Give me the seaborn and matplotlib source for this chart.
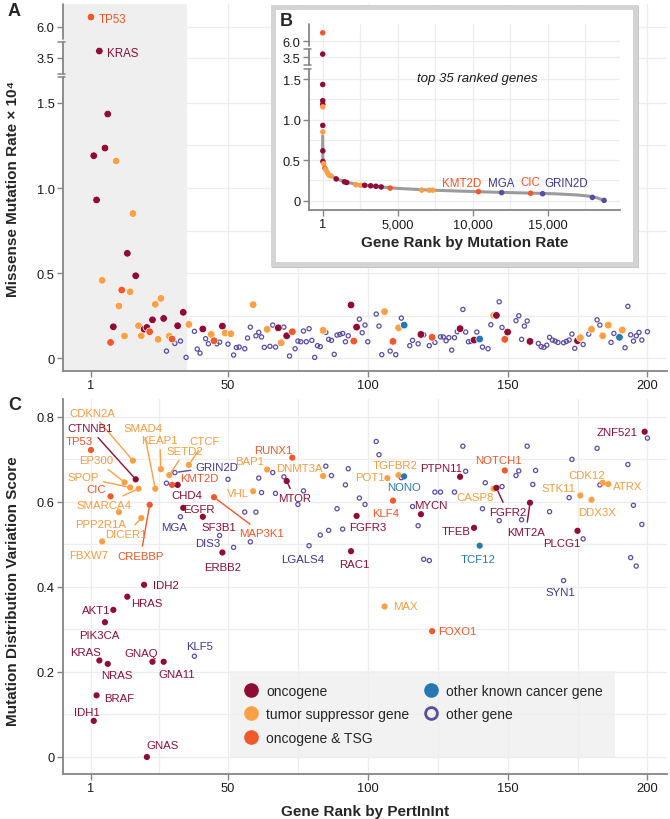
import numpy as np
import pandas as pd
import seaborn as sns
import matplotlib.pyplot as plt
import matplotlib.transforms as mtransforms
from matplotlib.lines import Line2D
from matplotlib.patches import Rectangle

sns.set_theme(style='white')
plt.rcParams['font.family'] = ['Liberation Sans', 'DejaVu Sans']

# gene classes
colors = {'onc': '#900c34', 'tsg': '#fba044', 'both': '#f1592a', 'known': '#2678b2', 'other': '#5a4ba5'}
text_colors = {'onc': '#8c0d36', 'tsg': '#f79b3f', 'both': '#ef5527', 'known': '#2678b2', 'other': '#3f3593'}
codes = {'o': 'onc', 't': 'tsg', 'b': 'both', 'k': 'known', 'x': 'other'}
names = {'onc': 'oncogene', 'tsg': 'tumor suppressor gene', 'both': 'oncogene & TSG',
         'known': 'other known cancer gene', 'other': 'other gene'}

# ---- panel A: rank by PertInInt vs missense mutation rate (x 1e4) ----
a_rank = [1, 2, 3, 4, 5, 6, 7, 8, 9, 10, 11, 12, 13, 14, 15, 16, 17, 18, 19, 20,
          21, 22, 23, 24, 25, 26, 27, 28, 29, 30, 31, 32, 33, 34, 35, 36, 38, 39, 40, 41,
          42, 43, 44, 45, 46, 47, 48, 49, 50, 51, 52, 53, 54, 56, 57, 58, 59, 60, 61, 62,
          63, 64, 65, 66, 67, 68, 69, 70, 71, 72, 73, 74, 75, 76, 77, 78, 79, 80, 81, 82,
          83, 84, 85, 86, 87, 88, 89, 90, 91, 92, 93, 94, 95, 96, 97, 98, 99, 100, 103, 104,
          105, 106, 108, 109, 110, 111, 112, 113, 115, 116, 118, 119, 120, 122, 123, 124, 126, 127, 128, 129,
          130, 131, 132, 133, 134, 135, 136, 137, 138, 139, 140, 141, 143, 144, 145, 146, 147, 148, 149, 150,
          153, 154, 155, 156, 157, 158, 161, 162, 163, 164, 165, 166, 167, 168, 170, 171, 172, 173, 174, 175,
          176, 177, 179, 180, 182, 183, 184, 186, 187, 188, 190, 191, 192, 193, 194, 195, 196, 197, 198, 200]
a_rate = [6.32, 1.19, 0.93, 3.71, 0.457, 1.235, 1.435, 0.092, 0.184, 1.159,
          0.306, 0.40, 0.13, 0.616, 0.39, 0.85, 0.484, 0.19, 0.131, 0.17,
          0.18, 0.155, 0.225, 0.316, 0.11, 0.351, 0.233, 0.041, 0.13, 0.112,
          0.086, 0.19, 0.1, 0.269, 0.004, 0.198, 0.157, 0.053, 0.029, 0.171,
          0.114, 0.084, 0.139, 0.102, 0.084, 0.094, 0.188, 0.147, 0.082, 0.143,
          0.018, 0.062, 0.065, 0.055, 0.118, 0.182, 0.314, 0.131, 0.151, 0.124,
          0.063, 0.169, 0.069, 0.194, 0.065, 0.178, 0.09, 0.182, 0.131, 0.012,
          0.155, 0.055, 0.1, 0.096, 0.159, 0.096, 0.173, 0.104, 0.004, 0.073,
          0.067, 0.163, 0.151, 0.11, 0.104, 0.022, 0.135, 0.139, 0.145, 0.096,
          0.131, 0.312, 0.1, 0.182, 0.229, 0.149, 0.194, 0.096, 0.259, 0.188,
          0.02, 0.273, 0.041, 0.098, 0.02, 0.178, 0.235, 0.194, 0.073, 0.104,
          0.084, 0.139, 0.137, 0.073, 0.122, 0.092, 0.125, 0.124, 0.102, 0.12,
          0.047, 0.12, 0.155, 0.173, 0.286, 0.153, 0.096, 0.098, 0.106, 0.153,
          0.112, 0.065, 0.055, 0.196, 0.251, 0.251, 0.331, 0.18, 0.11, 0.153,
          0.22, 0.249, 0.11, 0.188, 0.218, 0.098, 0.086, 0.067, 0.063, 0.076,
          0.122, 0.106, 0.1, 0.092, 0.09, 0.098, 0.106, 0.141, 0.057, 0.102,
          0.12, 0.08, 0.141, 0.169, 0.225, 0.194, 0.131, 0.194, 0.092, 0.145,
          0.122, 0.165, 0.061, 0.304, 0.137, 0.1, 0.131, 0.151, 0.106, 0.155]
a_type = [codes[c] for c in
          'boootoobot' 'tbtottotto' 'obotttoxtb' 'xoxoxtxxxo' 'xxtbxxotxt' 'xxxxxxtxxx'
          'xtxxxotxox' 'bxxxxxxxxx' 'xtxxxxxxxx' 'xoboxxxxxx' 'xtxbxtxkxx' 'xoxxbxxxxx'
          'xxxoxxxxox' 'kxxxtoxxbo' 'xxxxxoxxxx' 'xxxxxxxxxo' 'txxtxxttxx' 'ktxxxxxxxx']
a_labels = {1: 'TP53', 4: 'KRAS'}

# ---- inset B: top 35 genes on the mutation-rate ranking ----
curve_rank = [1, 5, 20, 60, 150, 300, 550, 900, 1500, 2200, 3000, 4000, 5000, 7000,
              10000, 12000, 14000, 15500, 17000, 17800, 18300, 18760]
curve_rate = [0.8, 0.6, 0.5, 0.457, 0.40, 0.355, 0.31, 0.27, 0.232, 0.205, 0.188, 0.168, 0.152, 0.132,
              0.113, 0.102, 0.093, 0.085, 0.07, 0.055, 0.035, 0.004]
b_rank = [1, 2, 3, 4, 5, 6, 7, 8, 10, 14, 60, 150, 200, 300, 420, 550, 900, 1450, 1600, 2200,
          2530, 2800, 3200, 3550, 3900, 4500, 6600, 7100, 7340, 10380, 11930, 13860, 14660, 17980, 18760]
b_rate = [6.32, 3.71, 1.435, 1.235, 1.19, 1.159, 0.93, 0.85, 0.616, 0.484,
          0.457, 0.40, 0.39, 0.351, 0.316, 0.306, 0.269, 0.233, 0.225, 0.198,
          0.19, 0.19, 0.184, 0.178, 0.17, 0.155, 0.131, 0.13, 0.13, 0.112,
          0.1, 0.092, 0.086, 0.041, 0.004]
b_type = [codes[c] for c in 'boooototoo' 'tbttttooot' 'toooobtttb' 'xbxxx']
b_labels = {10380: 'KMT2D', 11930: 'MGA', 13860: 'CIC', 14660: 'GRIN2D'}
b_offset = {'KMT2D': (-17, 9), 'MGA': (0, 10), 'CIC': (0, 11), 'GRIN2D': (24, 11)}

# ---- panel C: rank by PertInInt vs mutation distribution variation score ----
c_gene = ['TP53', 'CDKN2A', 'CTNNB1', 'EP300', 'SPOP', 'SMARCA4', 'SMAD4', 'CIC', 'PPP2R1A', 'CREBBP',
          'DICER1', 'FBXW7', 'KEAP1', 'SETD2', 'CTCF', 'GRIN2D', 'KMT2D', 'CHD4', 'EGFR', 'MGA',
          'SF3B1', 'DIS3', 'ERBB2', 'MAP3K1', 'VHL', 'RUNX1', 'BAP1', 'DNMT3A', 'MTOR', 'LGALS4',
          'ZNF521', 'TGFBR2', 'POT1', 'NONO', 'PTPN11', 'KLF4', 'MYCN', 'FGFR3', 'RAC1', 'NOTCH1',
          'CASP8', 'FGFR2', 'TFEB', 'TCF12', 'KMT2A', 'PLCG1', 'CDK12', 'STK11', 'ATRX', 'DDX3X',
          'SYN1', 'IDH2', 'HRAS', 'AKT1', 'PIK3CA', 'KRAS', 'NRAS', 'GNAQ', 'GNA11', 'KLF5',
          'BRAF', 'IDH1', 'GNAS', 'MAX', 'FOXO1']
c_rank = [1, 16, 17, 13, 15, 18, 24, 8, 11, 22,
          19, 5, 26, 29, 36, 31, 30, 32, 34, 33,
          41, 47, 48, 45, 59, 73, 64, 84, 71, 79,
          199, 111, 107, 113, 133, 109, 119, 96, 94, 149,
          145, 146, 138, 140, 158, 175, 184, 176, 186, 180,
          170, 20, 14, 9, 6, 4, 7, 23, 27, 38,
          3, 2, 21, 106, 123]
c_score = [0.722, 0.697, 0.653, 0.646, 0.634, 0.631, 0.631, 0.613, 0.576, 0.593,
           0.562, 0.507, 0.677, 0.663, 0.687, 0.669, 0.64, 0.64, 0.586, 0.565,
           0.565, 0.521, 0.481, 0.611, 0.625, 0.704, 0.676, 0.661, 0.649, 0.497,
           0.765, 0.663, 0.656, 0.66, 0.659, 0.603, 0.571, 0.567, 0.484, 0.674,
           0.631, 0.633, 0.539, 0.497, 0.598, 0.532, 0.645, 0.615, 0.642, 0.605,
           0.415, 0.405, 0.377, 0.346, 0.317, 0.227, 0.219, 0.224, 0.224, 0.237,
           0.145, 0.085, 0.0, 0.354, 0.296]
c_type = [codes[c] for c in
          'btottttbtb' 'tttttxboox' 'oxobtbttox' 'ottkobooob' 'tookootttt' 'xoooooooox' 'oootb']
c_other_rank = [28, 50, 52, 56, 58, 60, 61, 62, 66, 67, 70, 75, 77, 83, 85, 86, 87, 89, 91, 92,
                93, 97, 99, 103, 104, 112, 116, 118, 120, 122, 124, 126, 131, 134, 135, 141, 142, 147, 148, 153,
                154, 155, 157, 159, 160, 165, 172, 173, 177, 182, 183, 193, 194, 195, 196, 198, 200]
c_other_score = [0.644, 0.653, 0.493, 0.576, 0.506, 0.576, 0.656, 0.622, 0.669, 0.62,
                 0.659, 0.594, 0.626, 0.522, 0.684, 0.533, 0.662, 0.584, 0.536, 0.64,
                 0.678, 0.609, 0.594, 0.742, 0.711, 0.657, 0.589, 0.544, 0.465, 0.462,
                 0.623, 0.623, 0.623, 0.731, 0.672, 0.584, 0.645, 0.556, 0.636, 0.662,
                 0.673, 0.558, 0.731, 0.641, 0.674, 0.577, 0.61, 0.70, 0.513, 0.726,
                 0.64, 0.688, 0.469, 0.592, 0.449, 0.547, 0.75]

# label placement (offset of the text centre from the point, in pixels)
c_offset = {'TP53': (-12, 9), 'CDKN2A': (-41, 48), 'CTNNB1': (-46, 51), 'EP300': (-28, 22),
            'SPOP': (-47, 10), 'SMARCA4': (-35, -16), 'SMAD4': (-12, 61), 'CIC': (-14, 7),
            'PPP2R1A': (-18, -12), 'CREBBP': (-9, -51), 'DICER1': (-15, -16), 'FBXW7': (-13, -14),
            'KEAP1': (-1, 29), 'SETD2': (16, 24), 'CTCF': (16, 24), 'GRIN2D': (42, 6),
            'KMT2D': (27, 7), 'CHD4': (9, -10), 'EGFR': (16, -1), 'MGA': (-6, -10),
            'SF3B1': (16, -10), 'DIS3': (-12, -8), 'ERBB2': (0, -15), 'MAP3K1': (48, -36),
            'VHL': (-15, -2), 'RUNX1': (-19, 8), 'BAP1': (-18, 9), 'DNMT3A': (-24, 8),
            'MTOR': (8, -17), 'LGALS4': (-6, -13), 'ZNF521': (-28, 0), 'TGFBR2': (-3, 10),
            'POT1': (-17, 1), 'NONO': (0, -11), 'PTPN11': (-19, 9), 'KLF4': (-7, -12),
            'MYCN': (10, 9), 'FGFR3': (11, -11), 'RAC1': (3, -13), 'NOTCH1': (-6, 10),
            'CASP8': (-19, -8), 'FGFR2': (11, -24), 'TFEB': (-18, -3), 'TCF12': (-2, -13),
            'KMT2A': (-4, -29), 'PLCG1': (-16, -12), 'CDK12': (-16, 8), 'STK11': (-22, 8),
            'ATRX': (19, -2), 'DDX3X': (6, -12), 'SYN1': (-3, -11), 'IDH2': (22, 0),
            'HRAS': (20, -6), 'AKT1': (-17, 0), 'PIK3CA': (-6, -13), 'KRAS': (-14, 8),
            'NRAS': (9, -11), 'GNAQ': (-11, 9), 'GNA11': (13, -12), 'KLF5': (5, 10),
            'BRAF': (23, -3), 'IDH1': (-7, 9), 'GNAS': (16, 12), 'MAX': (21, 0), 'FOXO1': (25, 0)}
leader = {'CDKN2A', 'CTNNB1', 'EP300', 'SPOP', 'SMARCA4', 'SMAD4', 'CREBBP', 'DICER1', 'KEAP1',
          'SETD2', 'CTCF', 'GRIN2D', 'KMT2D', 'MAP3K1', 'MTOR', 'FGFR2', 'KMT2A'}

GRID = '#ededed'
SPINE = '#858585'


def broken_scale(ax, seg_in, seg_out):
    ax.set_yscale('function', functions=(lambda v: np.interp(v, seg_in, seg_out),
                                         lambda t: np.interp(t, seg_out, seg_in)))


def broken_spine(ax, pieces, cap):
    # left axis line drawn piece by piece, with small caps where it is cut
    ax.spines['left'].set_visible(False)
    tr = mtransforms.blended_transform_factory(ax.transAxes, ax.transData)
    for lo, hi, cap_lo, cap_hi in pieces:
        ax.plot([0, 0], [lo, hi], color=SPINE, lw=1.3, transform=tr, clip_on=False, zorder=5)
        for y, on in [(lo, cap_lo), (hi, cap_hi)]:
            if on:
                ax.plot([-cap, cap / 3], [y, y], color=SPINE, lw=1.1, transform=tr, clip_on=False, zorder=5)


def style_axes(ax, xgrid, ygrid, ticksize=9.3):
    sns.despine(ax=ax)
    for side in ['left', 'bottom']:
        ax.spines[side].set_color(SPINE)
        ax.spines[side].set_linewidth(1.3)
    ax.tick_params(which='both', direction='out', length=4, width=1, color=SPINE,
                   labelsize=ticksize, labelcolor='#1a1a1a', left=True, bottom=True, pad=2)
    ax.grid(False)
    for v in xgrid:
        ax.axvline(v, color=GRID, lw=0.9, zorder=0)
    for v in ygrid:
        ax.axhline(v, color=GRID, lw=0.9, zorder=0)


fig = plt.figure(figsize=(6.7, 8.2), dpi=100)

# ---------------- panel A ----------------
ax_a = fig.add_axes([63 / 670, 1 - 372 / 820, 604 / 670, 367 / 820])
broken_scale(ax_a, [-1, 1.671, 3.0, 4.0, 5.5, 8.0], [-1, 1.671, 1.672, 1.860, 1.861, 2.301])
df_a = pd.DataFrame({'rank': a_rank, 'rate': a_rate, 'type': a_type})
ax_a.axvspan(-20, 35.5, color='#efefef', lw=0, zorder=0.5)
sns.scatterplot(data=df_a[df_a['type'] == 'other'], x='rank', y='rate', color=colors['other'],
                facecolors='none', edgecolor=colors['other'], s=9, linewidth=0.9, legend=False, ax=ax_a, zorder=2)
sns.scatterplot(data=df_a[df_a['type'] != 'other'], x='rank', y='rate', hue='type', palette=colors,
                s=30, edgecolor='white', linewidth=0.5, legend=False, ax=ax_a, zorder=3)
for r, name in a_labels.items():
    row = df_a[df_a['rank'] == r].iloc[0]
    ax_a.annotate(name, (r, row['rate']), xytext=(8, -2), textcoords='offset pixels',
                  ha='left', va='center', fontsize=8.3, color=text_colors[row['type']])
ax_a.set_xlim(-9, 207)
ax_a.set_ylim(-0.076, 6.756)
ax_a.set_xticks([1, 50, 100, 150, 200])
ax_a.set_yticks([0, 0.5, 1.0, 1.5, 3.5, 6.0], ['0', '0.5', '1.0', '1.5', '3.5', '6.0'])
style_axes(ax_a, [1, 25.5, 50, 75, 100, 125, 150, 175, 200], [0, 0.25, 0.5, 0.75, 1.0, 1.25, 1.5, 3.5, 6.0])
broken_spine(ax_a, [(-0.076, 1.652, False, True), (3.0, 4.0, True, True), (5.6, 6.756, False, False)], 0.008)
ax_a.set_xlabel('')
ax_a.set_ylabel('Missense Mutation Rate \u00d7 10\u2074', fontsize=11, fontweight='bold')
ax_a.yaxis.set_label_coords(-0.071, 0.5)

# ---------------- inset B ----------------
fig.add_artist(Rectangle((274 / 670, 1 - 266 / 820), 362 / 670, 257 / 820, transform=fig.transFigure,
                         facecolor='none', edgecolor='#c6c6c6', lw=3.6, zorder=1.9))
fig.add_artist(Rectangle((272.5 / 670, 1 - 264.5 / 820), 362 / 670, 257 / 820, transform=fig.transFigure,
                         facecolor='white', edgecolor='#d4d4d4', lw=3.6, zorder=2))
ax_b = fig.add_axes([309 / 670, 1 - 211 / 820, 311 / 670, 186 / 820])
ax_b.set_zorder(3)
broken_scale(ax_b, [-1, 1.669, 3.0, 4.0, 5.7, 8.0], [-1, 1.669, 1.670, 1.868, 1.869, 2.628])
df_b = pd.DataFrame({'rank': b_rank, 'rate': b_rate, 'type': b_type})
sns.lineplot(x=curve_rank, y=curve_rate, color='#9b9b9b', lw=2.2, sort=False, estimator=None, ax=ax_b, zorder=2)
sns.scatterplot(data=df_b, x='rank', y='rate', hue='type', palette=colors, s=16, edgecolor='none',
                legend=False, ax=ax_b, zorder=3)
for r, name in b_labels.items():
    row = df_b[df_b['rank'] == r].iloc[0]
    ax_b.annotate(name, (r, row['rate']), xytext=b_offset[name], textcoords='offset pixels',
                  ha='center', va='center', fontsize=8.3, color=text_colors[row['type']])
ax_b.text(0.54, 0.71, 'top 35 ranked genes', transform=ax_b.transAxes, ha='center', va='center',
          fontsize=9.5, style='italic', color='#1a1a1a')
ax_b.set_xlim(-912, 19820)
ax_b.set_ylim(-0.115, 6.65)
ax_b.set_xticks([1, 5000, 10000, 15000], ['1', '5,000', '10,000', '15,000'])
ax_b.set_yticks([0, 0.5, 1.0, 1.5, 3.5, 6.0], ['0', '0.5', '1.0', '1.5', '3.5', '6.0'])
style_axes(ax_b, [1, 2500, 5000, 7500, 10000, 12500, 15000, 17500],
           [0, 0.25, 0.5, 0.75, 1.0, 1.25, 1.5, 3.5, 6.0])
broken_spine(ax_b, [(-0.115, 1.632, False, True), (3.0, 4.0, True, True), (5.81, 6.65, False, False)], 0.016)
ax_b.set_xlabel('Gene Rank by Mutation Rate', fontsize=11, fontweight='bold', labelpad=3)
ax_b.set_ylabel('')

# ---------------- panel C ----------------
ax_c = fig.add_axes([63 / 670, 1 - 775 / 820, 604 / 670, 375 / 820])
df_c = pd.DataFrame({'gene': c_gene, 'rank': c_rank, 'score': c_score, 'type': c_type})
df_open = pd.concat([df_c[df_c['type'] == 'other'][['rank', 'score']],
                     pd.DataFrame({'rank': c_other_rank, 'score': c_other_score})])
sns.scatterplot(data=df_open, x='rank', y='score', color=colors['other'], facecolors='none',
                edgecolor=colors['other'], s=9, linewidth=0.9, legend=False, ax=ax_c, zorder=2)
sns.scatterplot(data=df_c[df_c['type'] != 'other'], x='rank', y='score', hue='type', palette=colors,
                s=20, edgecolor='none', legend=False, ax=ax_c, zorder=3)
for g, r, sc, t in zip(c_gene, c_rank, c_score, c_type):
    line = dict(arrowstyle='-', color=colors[t], lw=1.0, shrinkA=1, shrinkB=2.5) if g in leader else None
    ax_c.annotate(g, (r, sc), xytext=c_offset[g], textcoords='offset pixels', ha='center', va='center',
                  fontsize=8.2, color=text_colors[t], arrowprops=line)
ax_c.set_xlim(-9, 207)
ax_c.set_ylim(-0.04, 0.842)
ax_c.set_xticks([1, 50, 100, 150, 200])
ax_c.set_yticks([0, 0.2, 0.4, 0.6, 0.8], ['0', '0.2', '0.4', '0.6', '0.8'])
style_axes(ax_c, [1, 25.5, 50, 75, 100, 125, 150, 175, 200], np.arange(0, 0.85, 0.1))
ax_c.set_xlabel('Gene Rank by PertInInt', fontsize=11, fontweight='bold')
ax_c.set_ylabel('Mutation Distribution Variation Score', fontsize=11, fontweight='bold')
ax_c.xaxis.set_label_coords(0.5, -0.08)
ax_c.yaxis.set_label_coords(-0.071, 0.49)

order = ['onc', 'tsg', 'both', 'known', 'other']
handles = [Line2D([], [], ls='', marker='o', markersize=9.5, markerfacecolor=colors[k],
                  markeredgecolor=colors[k]) for k in order[:4]]
handles.append(Line2D([], [], ls='', marker='o', markersize=8.5, markerfacecolor='none',
                      markeredgecolor=colors['other'], markeredgewidth=2))
leg = ax_c.legend(handles, [names[k] for k in order], ncol=2, loc='lower left',
                  bbox_to_anchor=(0.277, 0.045, 0.637, 0.228), mode='expand', frameon=True,
                  facecolor='#efefef', edgecolor='none', fancybox=False, fontsize=10, borderaxespad=0,
                  borderpad=0.9, labelspacing=0.68, handletextpad=0.5, handlelength=1.2)
leg.get_frame().set_linewidth(0)

# panel letters
fig.text(8 / 670, 1 - 12 / 820, 'A', fontsize=13, fontweight='bold', va='center')
fig.text(280 / 670, 1 - 22 / 820, 'B', fontsize=13, fontweight='bold', va='center')
fig.text(8 / 670, 1 - 406 / 820, 'C', fontsize=13, fontweight='bold', va='center')

fig.savefig('out.png', dpi=100)
